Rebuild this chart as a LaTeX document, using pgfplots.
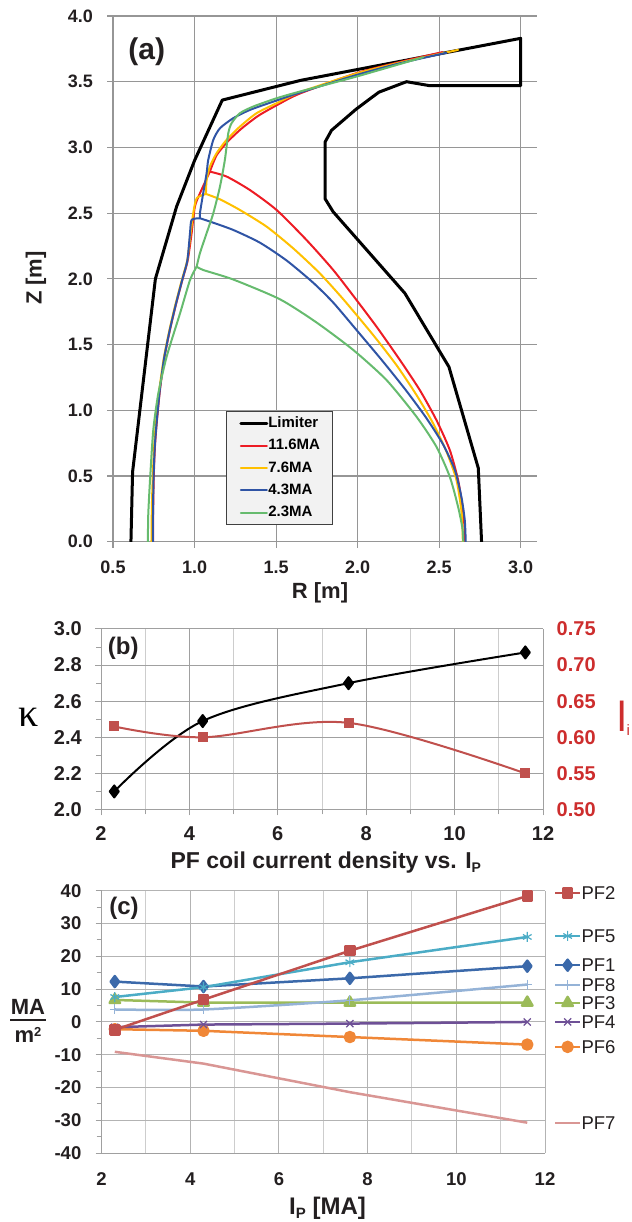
\documentclass[border=0pt]{standalone}
\usepackage{pgfplots}
\pgfplotsset{compat=1.18}
\usepackage{fontspec}
\setmainfont{Liberation Sans}
\newfontfamily\serif{Liberation Serif}
\newcommand{\fs}[1]{\fontsize{#1bp}{#1bp}\selectfont}
\definecolor{txt}{RGB}{35,31,32}
\definecolor{gridA}{RGB}{150,150,150}
\definecolor{gridB}{RGB}{160,160,160}
\definecolor{gridBm}{RGB}{205,205,205}
\definecolor{legfill}{RGB}{242,242,242}
\definecolor{cRed}{RGB}{237,28,36}
\definecolor{cYel}{RGB}{255,192,0}
\definecolor{cBlu}{RGB}{47,84,165}
\definecolor{cGrn}{RGB}{102,187,110}
\definecolor{liRed}{RGB}{192,80,77}
\definecolor{axRed}{RGB}{205,45,45}
\definecolor{pfii}{RGB}{192,80,77}
\definecolor{pfv}{RGB}{75,172,198}
\definecolor{pfi}{RGB}{59,105,170}
\definecolor{pfviii}{RGB}{149,179,215}
\definecolor{pfiii}{RGB}{155,187,89}
\definecolor{pfiv}{RGB}{110,80,150}
\definecolor{pfvi}{RGB}{240,135,55}
\definecolor{pfvii}{RGB}{217,150,148}
\begin{document}
\begin{tikzpicture}[x=1bp,y=1bp]
\path[use as bounding box] (0,0) rectangle (632,1222);

%================ Panel (a)
\begin{axis}[
  at={(113bp,680.3bp)}, anchor=south west, scale only axis,
  width=424bp, height=525.7bp,
  xmin=0.5, xmax=3.1, ymin=0, ymax=4,
  xtick={0.5,1.0,1.5,2.0,2.5,3.0}, ytick={0,0.5,1,1.5,2,2.5,3,3.5,4},
  xmajorgrids, ymajorgrids,
  major grid style={draw=gridA, line width=1.1bp},
  axis x line*=bottom, axis y line*=left,
  axis line style={draw=gridA, line width=1.1bp, -},
  tick align=outside, major tick length=6bp,
  tick style={draw=gridA, line width=1.1bp},
  /pgf/number format/assume math mode=true,
  ticklabel style={font={\fs{18}\bfseries}, text=txt, inner sep=0pt},
  xticklabel style={/pgf/number format/.cd, fixed, fixed zerofill, precision=1},
  yticklabel style={/pgf/number format/.cd, fixed, fixed zerofill, precision=1},
  xticklabel shift=13bp, yticklabel shift=14bp,
  legend style={at={(0.266,0.2486)}, anchor=north west, fill=legfill, draw=black!75,
     line width=1bp, font={\fs{15}\bfseries}, row sep=8.3bp, inner xsep=13bp, inner ysep=5bp,
     nodes={inner sep=0pt, text height=11bp, text depth=3bp}},
  legend cell align=left,
  legend image code/.code={\draw[#1] (0bp,0bp) -- (26bp,0bp);},
  every axis plot/.append style={line join=round, line cap=round},
]
\addplot[black, line width=3bp] coordinates {
(0.61,0) (0.62,0.53) (0.76,2.0) (0.89,2.55) (1.0,2.9) (1.17,3.36) (1.65,3.51) (3.0,3.83)
(3.0,3.47) (2.44,3.47) (2.3,3.5) (2.13,3.42) (1.99,3.29) (1.84,3.13) (1.8,3.04) (1.8,2.61)
(1.85,2.51) (2.29,1.89) (2.56,1.33) (2.74,0.56) (2.76,0)};
% red 11.6MA
\addplot[cRed, line width=2bp, smooth, tension=0.4] coordinates {
(1.094,2.816)(1.033,2.65)(1.002,2.549)(0.982,2.346)(0.958,2.14)(0.925,1.99)(0.885,1.80)(0.849,1.61)(0.815,1.40)(0.788,1.155)(0.768,0.90)(0.757,0.72)(0.750,0.50)(0.747,0.30)(0.746,0.15)(0.746,0)};
\addplot[cRed, line width=2bp, smooth, tension=0.4, forget plot] coordinates {
(1.094,2.816)(1.197,2.778)(1.339,2.676)(1.503,2.524)(1.687,2.295)(1.85,2.068)(1.993,1.839)(2.116,1.636)(2.259,1.383)(2.381,1.154)(2.483,0.926)(2.565,0.698)(2.616,0.47)(2.646,0.241)(2.656,0.1)(2.658,0)};
\addplot[cRed, line width=2bp, smooth, tension=0.4, forget plot] coordinates {
(1.094,2.816)(1.135,2.94)(1.20,3.04)(1.285,3.14)(1.39,3.24)(1.51,3.325)(1.646,3.41)(1.993,3.565)(2.259,3.65)(2.52,3.725)};
% yellow 7.6MA
\addplot[cYel, line width=2bp, smooth, tension=0.4] coordinates {
(1.07,2.646)(1.013,2.613)(0.992,2.499)(0.976,2.346)(0.955,2.14)(0.922,1.99)(0.882,1.80)(0.846,1.61)(0.812,1.40)(0.784,1.155)(0.763,0.90)(0.752,0.72)(0.744,0.50)(0.739,0.30)(0.737,0.15)(0.736,0)};
\addplot[cYel, line width=2bp, smooth, tension=0.4, forget plot] coordinates {
(1.07,2.646)(1.156,2.605)(1.278,2.524)(1.442,2.397)(1.605,2.232)(1.768,2.042)(1.916,1.839)(2.095,1.573)(2.238,1.344)(2.361,1.116)(2.463,0.9)(2.545,0.685)(2.606,0.47)(2.636,0.241)(2.643,0.1)(2.645,0)};
\addplot[cYel, line width=2bp, smooth, tension=0.4, forget plot] coordinates {
(1.07,2.646)(1.074,2.752)(1.094,2.854)(1.135,2.955)(1.196,3.057)(1.278,3.158)(1.38,3.26)(1.503,3.336)(1.646,3.42)(1.993,3.562)(2.259,3.645)(2.616,3.742)};
% blue 4.3MA
\addplot[cBlu, line width=2bp, smooth, tension=0.4] coordinates {
(1.033,2.461)(0.982,2.448)(0.972,2.346)(0.956,2.14)(0.924,1.99)(0.884,1.80)(0.848,1.61)(0.814,1.40)(0.787,1.155)(0.767,0.90)(0.756,0.72)(0.749,0.50)(0.746,0.30)(0.745,0.15)(0.745,0)};
\addplot[cBlu, line width=2bp, smooth, tension=0.4, forget plot] coordinates {
(1.033,2.461)(1.094,2.436)(1.237,2.372)(1.401,2.275)(1.564,2.14)(1.728,1.97)(1.85,1.82)(1.993,1.611)(2.156,1.37)(2.30,1.146)(2.422,0.940)(2.524,0.740)(2.596,0.546)(2.636,0.343)(2.657,0.165)(2.663,0)};
\addplot[cBlu, line width=2bp, smooth, tension=0.4, forget plot] coordinates {
(1.033,2.461)(1.033,2.499)(1.053,2.651)(1.074,2.803)(1.084,2.905)(1.115,3.057)(1.156,3.146)(1.237,3.222)(1.339,3.285)(1.482,3.348)(1.646,3.417)(1.993,3.551)(2.259,3.64)(2.545,3.72)};
% green 2.3MA
\addplot[cGrn, line width=2bp, smooth, tension=0.4] coordinates {
(1.013,2.093)(0.972,1.99)(0.911,1.737)(0.829,1.408)(0.778,1.129)(0.747,0.85)(0.727,0.47)(0.716,0.2)(0.714,0)};
\addplot[cGrn, line width=2bp, smooth, tension=0.4, forget plot] coordinates {
(1.013,2.093)(1.054,2.067)(1.237,1.995)(1.523,1.845)(1.748,1.668)(1.973,1.459)(2.177,1.23)(2.361,0.951)(2.483,0.723)(2.565,0.495)(2.616,0.266)(2.643,0.1)(2.648,0)};
\addplot[cGrn, line width=2bp, smooth, tension=0.4, forget plot] coordinates {
(1.013,2.093)(1.033,2.195)(1.074,2.347)(1.115,2.499)(1.156,2.702)(1.186,2.905)(1.207,3.108)(1.227,3.184)(1.278,3.26)(1.36,3.311)(1.503,3.374)(1.646,3.425)(1.993,3.539)(2.402,3.686)};
\legend{Limiter,11.6MA,7.6MA,4.3MA,2.3MA}
\end{axis}
\node[font={\fs{30}\bfseries}, text=txt] at (146.7,1170.3) {(a)};
\node[font={\fs{22}\bfseries}, text=txt] at (320,628.7) {R [m]};
\node[font={\fs{22}\bfseries}, text=txt, rotate=90] at (36,944) {Z [m]};

%================ Panel (b)
\begin{axis}[
  at={(101bp,412.5bp)}, anchor=south west, scale only axis,
  width=442bp, height=180.5bp,
  xmin=2, xmax=12, ymin=2, ymax=3,
  xtick={2,4,6,8,10,12}, minor x tick num=1,
  ytick={2,2.2,2.4,2.6,2.8,3}, minor y tick num=1,
  xmajorgrids, xminorgrids, ymajorgrids,
  major grid style={draw=gridB, line width=1bp},
  minor grid style={draw=gridBm, line width=1bp},
  axis x line*=bottom, axis y line*=left,
  axis line style={draw=gridB, line width=1bp, -},
  tick align=outside, major tick length=6bp, minor tick length=5bp,
  tick style={draw=gridB, line width=1bp},
  /pgf/number format/assume math mode=true,
  ticklabel style={font={\fs{20}\bfseries}, text=txt, inner sep=0pt},
  yticklabel style={/pgf/number format/.cd, fixed, fixed zerofill, precision=1},
  xticklabel shift=11bp, yticklabel shift=13bp,
  every axis plot/.append style={line join=round},
]
\addplot[black, line width=2bp, smooth, tension=0.55, mark=diamond*, mark size=6bp, mark options={solid}]
  coordinates {(2.3,2.10)(4.3,2.49)(7.6,2.70)(11.6,2.87)};
\end{axis}
\begin{axis}[
  at={(101bp,412.5bp)}, anchor=south west, scale only axis,
  width=442bp, height=180.5bp,
  xmin=2, xmax=12, ymin=0.5, ymax=0.75,
  axis x line=none, axis y line*=right,
  axis line style={draw=none},
  ytick={0.5,0.55,0.6,0.65,0.7,0.75},
  major tick length=0pt,
  /pgf/number format/assume math mode=true,
  ticklabel style={font={\fs{20}\bfseries}, text=axRed, inner sep=0pt},
  yticklabel style={/pgf/number format/.cd, fixed, fixed zerofill, precision=2},
  yticklabel shift=13.5bp,
]
\addplot[liRed, line width=2bp, smooth, tension=0.55, mark=square*, mark size=4bp, mark options={solid}]
  coordinates {(2.3,0.615)(4.3,0.60)(7.6,0.62)(11.6,0.55)};
\end{axis}
\node[font={\fs{24}\bfseries}, text=txt] at (123.3,573.7) {(b)};
\node[font={\serif\fs{40}}, text=black] at (28.3,505) {κ};
\node[font={\fs{42}}, text=axRed, anchor=base west, inner sep=0pt] at (617,490.3) {l\raisebox{-4bp}{\fs{15}i}};
\node[font={\fs{23}\bfseries}, text=txt] at (325.8,359) {PF coil current density vs. I\raisebox{-4bp}{\fs{14}P}};

%================ Panel (c)
\begin{axis}[
  at={(101.5bp,68.8bp)}, anchor=south west, scale only axis,
  width=443.5bp, height=262.5bp,
  xmin=2, xmax=12, ymin=-40, ymax=40,
  xtick={2,4,6,8,10,12}, minor x tick num=1,
  ytick={-40,-30,-20,-10,0,10,20,30,40}, minor y tick num=1,
  xmajorgrids, xminorgrids, ymajorgrids,
  major grid style={draw=gridB!80, line width=1bp},
  minor grid style={draw=gridBm, line width=1bp},
  axis x line*=bottom, axis y line*=left,
  axis line style={draw=gridB, line width=1bp, -},
  tick align=outside, major tick length=6bp, minor tick length=5bp,
  xtick style={draw=none}, ytick style={draw=gridB, line width=1bp},
  /pgf/number format/assume math mode=true,
  ticklabel style={font={\fs{18.5}\bfseries}, text=txt, inner sep=0pt},
  xticklabel shift=13bp, yticklabel shift=14bp,
  clip=false,
  every axis plot/.append style={line join=round, line width=2.5bp},
]
\addplot[pfvii] coordinates {(2.3,-9.1)(4.3,-12.7)(7.6,-21.4)(11.6,-30.7)};
\addplot[pfvi, mark=*, mark size=5bp] coordinates {(2.3,-2.2)(4.3,-2.7)(7.6,-4.6)(11.6,-6.9)};
\addplot[pfiv, mark=x, mark size=5bp, mark options={line width=1.2bp}] coordinates {(2.3,-1.6)(4.3,-0.8)(7.6,-0.5)(11.6,0)};
\addplot[pfiii, mark=triangle*, mark size=6bp] coordinates {(2.3,6.7)(4.3,5.9)(7.6,5.9)(11.6,5.9)};
\addplot[pfviii, smooth, tension=0.4, mark=+, mark size=5bp, mark options={line width=1.2bp}] coordinates {(2.3,3.8)(4.3,3.8)(7.6,6.6)(11.6,11.4)};
\addplot[pfi, mark=diamond*, mark size=5.5bp] coordinates {(2.3,12.3)(4.3,10.8)(7.6,13.3)(11.6,17.0)};
\addplot[pfv, mark=asterisk, mark size=5bp, mark options={line width=1.2bp}] coordinates {(2.3,7.6)(4.3,10.6)(7.6,18.2)(11.6,25.9)};
\addplot[pfii, mark=square*, mark size=4.5bp] coordinates {(2.3,-2.4)(4.3,6.8)(7.6,21.7)(11.6,38.4)};
% right-hand labels
\addplot[pfii, mark=square*, mark size=4.5bp, mark indices={2}] coordinates {(12.23,39.3)(12.51,39.3)(12.79,39.3)};
\addplot[pfv, mark=asterisk, mark size=5bp, mark options={line width=1.2bp}, mark indices={2}] coordinates {(12.23,26.2)(12.51,26.2)(12.79,26.2)};
\addplot[pfi, mark=diamond*, mark size=5.5bp, mark indices={2}] coordinates {(12.23,17.3)(12.51,17.3)(12.79,17.3)};
\addplot[pfviii, mark=+, mark size=5bp, mark options={line width=1.2bp}, mark indices={2}] coordinates {(12.23,11.25)(12.51,11.25)(12.79,11.25)};
\addplot[pfiii, mark=triangle*, mark size=6bp, mark indices={2}] coordinates {(12.23,5.8)(12.51,5.8)(12.79,5.8)};
\addplot[pfiv, mark=x, mark size=5bp, mark options={line width=1.2bp}, mark indices={2}] coordinates {(12.23,0)(12.51,0)(12.79,0)};
\addplot[pfvi, mark=*, mark size=5bp, mark indices={2}] coordinates {(12.23,-7.6)(12.51,-7.6)(12.79,-7.6)};
\addplot[pfvii] coordinates {(12.23,-30.8)(12.79,-30.8)};
\node[anchor=west, inner sep=0pt, font={\fs{18.5}}, text=txt] at (axis cs:12.82,39.3) {PF2};
\node[anchor=west, inner sep=0pt, font={\fs{18.5}}, text=txt] at (axis cs:12.82,26.2) {PF5};
\node[anchor=west, inner sep=0pt, font={\fs{18.5}}, text=txt] at (axis cs:12.82,17.3) {PF1};
\node[anchor=west, inner sep=0pt, font={\fs{18.5}}, text=txt] at (axis cs:12.82,11.25) {PF8};
\node[anchor=west, inner sep=0pt, font={\fs{18.5}}, text=txt] at (axis cs:12.82,5.8) {PF3};
\node[anchor=west, inner sep=0pt, font={\fs{18.5}}, text=txt] at (axis cs:12.82,0) {PF4};
\node[anchor=west, inner sep=0pt, font={\fs{18.5}}, text=txt] at (axis cs:12.82,-7.6) {PF6};
\node[anchor=west, inner sep=0pt, font={\fs{18.5}}, text=txt] at (axis cs:12.82,-30.8) {PF7};
\end{axis}
\node[font={\fs{24}\bfseries}, text=txt] at (124,313.7) {(c)};
\node[font={\fs{22}\bfseries}, text=txt] at (28,215) {MA};
\draw[txt, line width=1.6bp] (10,202) -- (46,202);
\node[font={\fs{22}\bfseries}, text=txt] at (28,187) {m\raisebox{6bp}{\fs{13}2}};
\node[font={\fs{24}\bfseries}, text=txt] at (327.5,14) {I\raisebox{-4bp}{\fs{15}P} [MA]};
\end{tikzpicture}
\end{document}
